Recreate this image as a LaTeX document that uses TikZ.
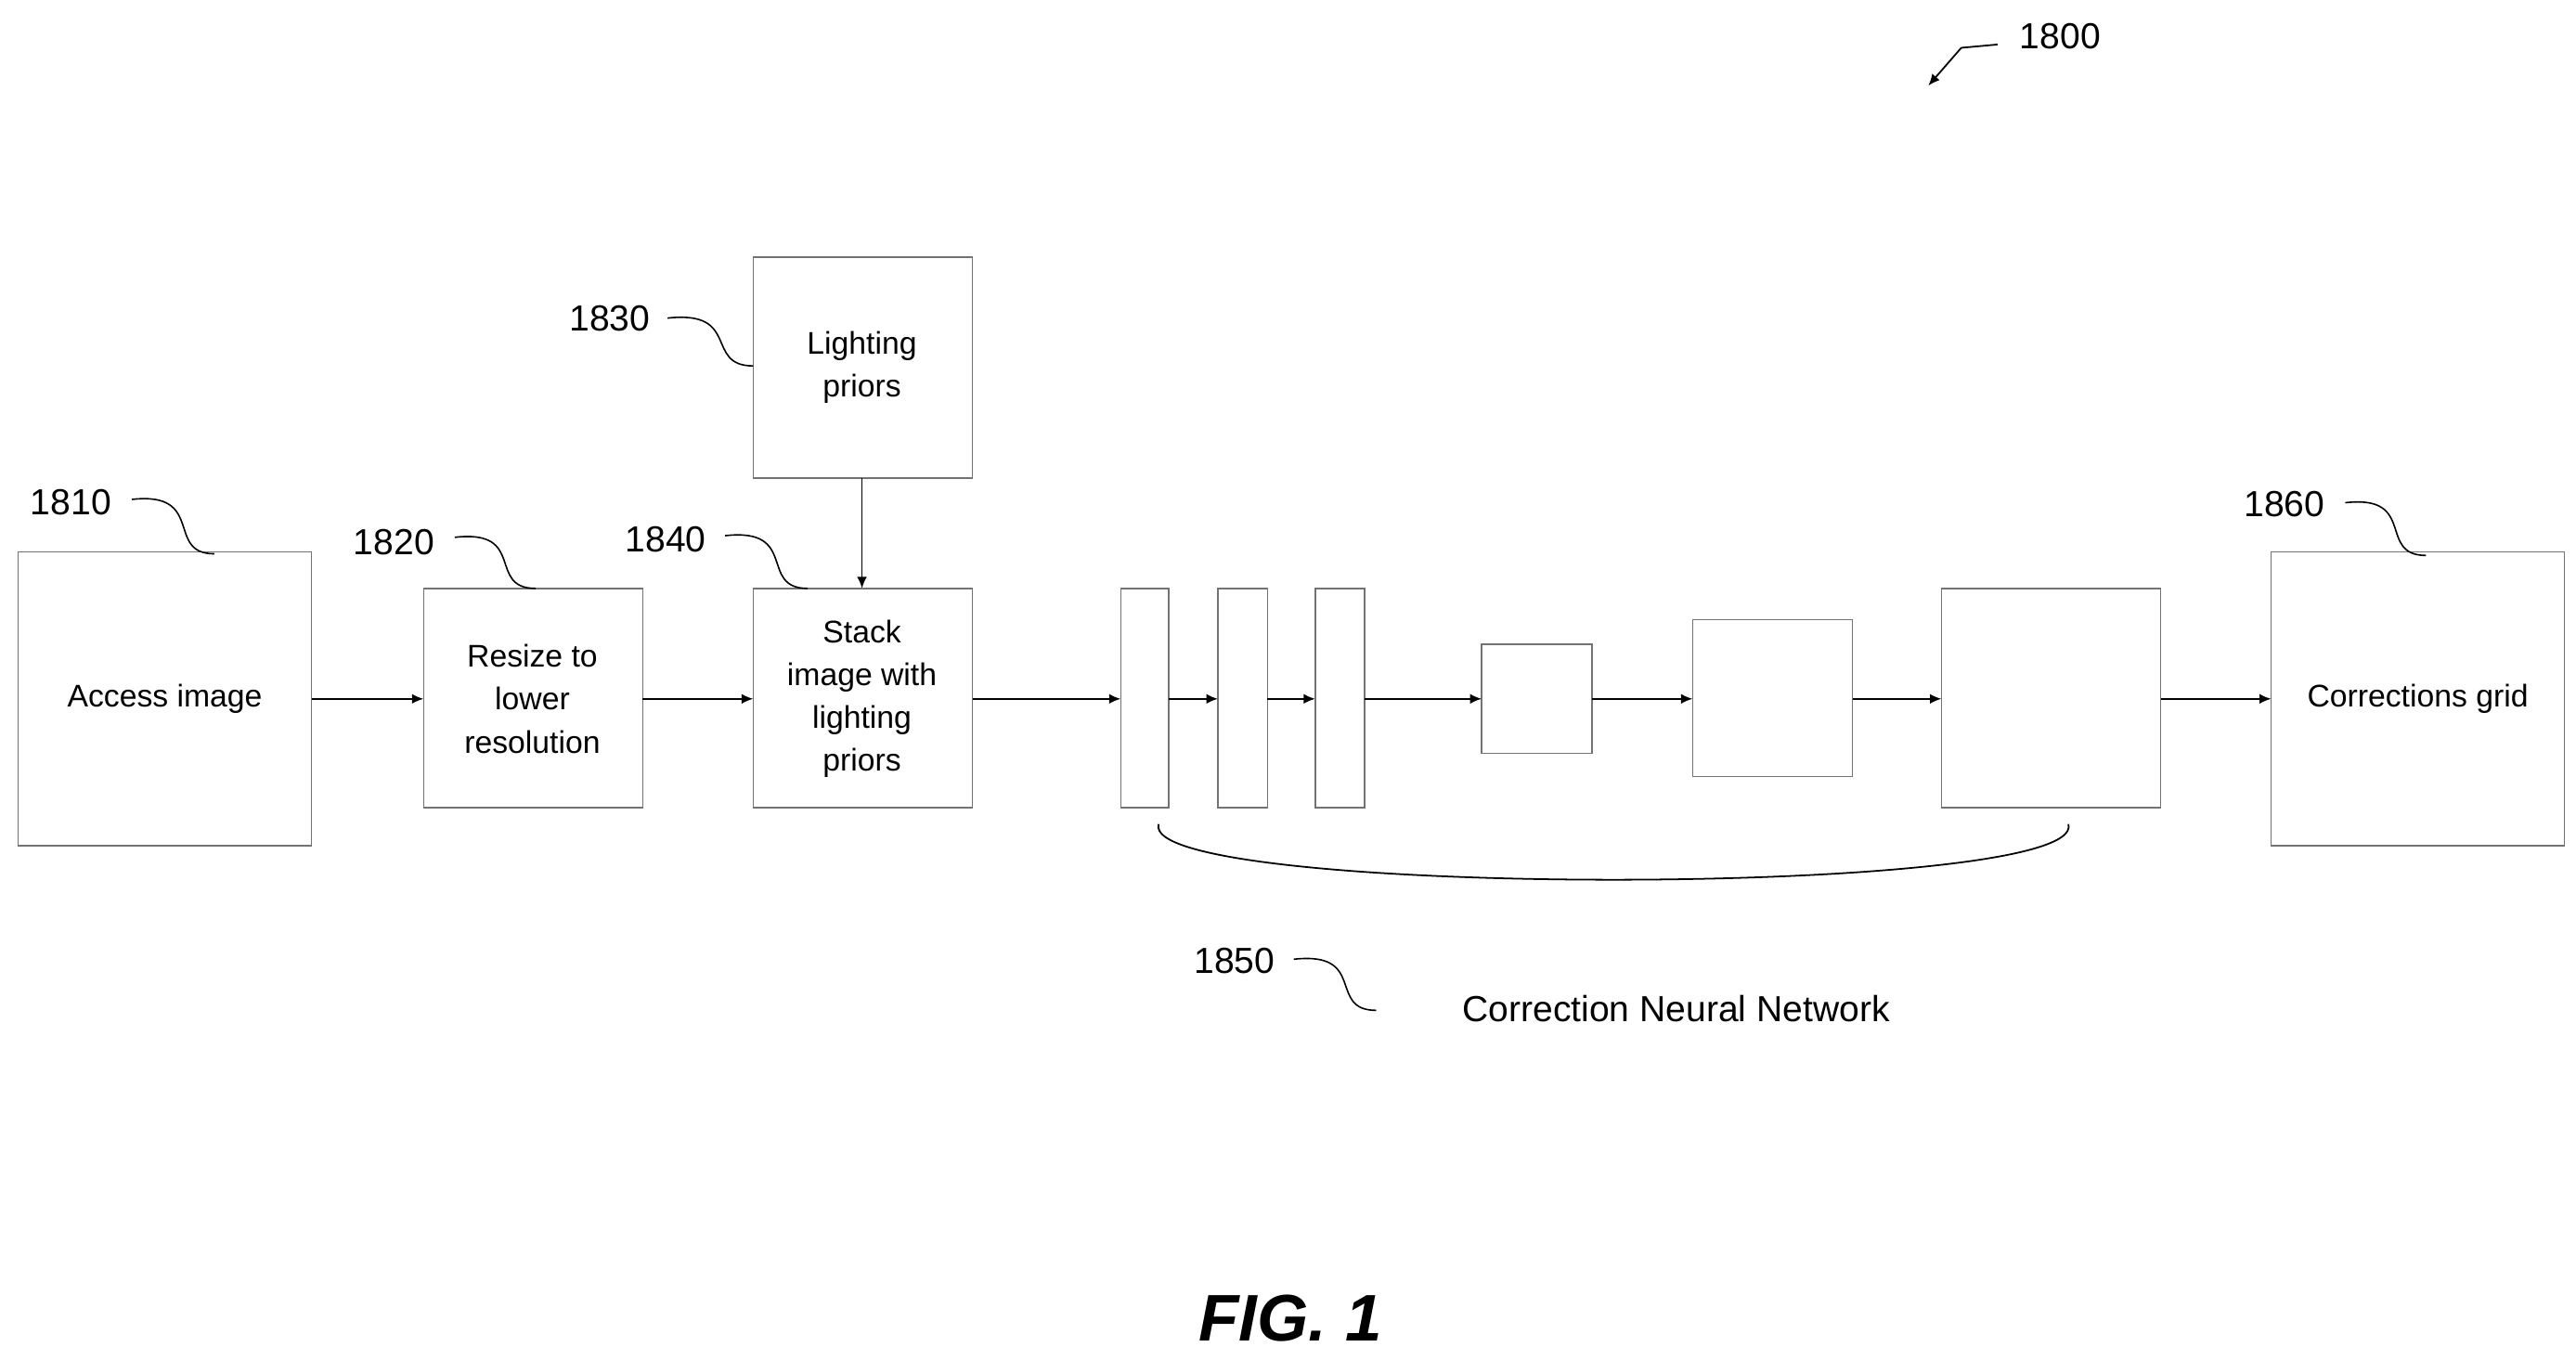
\documentclass[tikz,border=0pt]{standalone}
\usepackage{fontspec}
\setmainfont{Liberation Sans}
\usetikzlibrary{arrows.meta}
\begin{document}
\begin{tikzpicture}[x=1pt,y=-1pt,
 box/.style={draw=black!55,line width=0.8pt},
 arr/.style={-{Latex[length=7pt,width=6pt]},line width=1pt},
 lbl/.style={font=\fontsize{22}{26}\selectfont},
 txt/.style={font=\fontsize{19}{26}\selectfont,align=center},
 sq/.style={line width=0.9pt}]
\path[use as bounding box] (0,0) rectangle (1563,825);
\draw[box] (11,335) rectangle (189,513); \node[txt] (a) at (100,424) {Access image};
\draw[box] (257,357) rectangle (390,490); \node[txt] (r) at (323,424) {Resize to\\lower\\resolution};
\draw[box] (457,357) rectangle (590,490); \node[txt] (s) at (523,424) {Stack\\image with\\lighting\\priors};
\draw[box] (457,156) rectangle (590,290); \node[txt] (l) at (523,223) {Lighting\\priors};
\draw[box] (680,357) rectangle (709,490);
\draw[box] (739,357) rectangle (769,490);
\draw[box] (798,357) rectangle (828,490);
\draw[box] (899,391) rectangle (966,457);
\draw[box] (1027,376) rectangle (1124,471);
\draw[box] (1178,357) rectangle (1311,490);
\draw[box] (1378,335) rectangle (1556,513); \node[txt] (c) at (1467,424) {Corrections grid};
\foreach \a/\b in {189/257,390/457,590/680,709/739,769/798,828/899,966/1027,1124/1178,1311/1378}
 \draw[arr] (\a,424) -- (\b,424);
\draw[arr] (523,290) -- (523,357);
\draw[line width=1pt] (703,500) .. controls (690,545) and (1268,545) .. (1255,500);
\node[lbl] at (43,305) {1810};
\draw[sq] (80,303) .. controls (125,298) and (100,336) .. (130,336);
\node[lbl] at (239,329) {1820};
\draw[sq] (276,326) .. controls (320,321) and (295,357) .. (325,357);
\node[lbl] at (370,193) {1830};
\draw[sq] (405,193) .. controls (450,188) and (427,222) .. (457,222);
\node[lbl] at (404,327) {1840};
\draw[sq] (440,325) .. controls (485,320) and (460,357) .. (490,357);
\node[lbl] at (1386,306) {1860};
\draw[sq] (1423,305) .. controls (1467,300) and (1442,337) .. (1472,337);
\node[lbl] at (749,583) {1850};
\draw[sq] (785,582) .. controls (830,577) and (805,613) .. (835,613);
\node[lbl] at (1017,612) {Correction Neural Network};
\node[lbl] at (1250,22) {1800};
\draw[arr] (1212,27) -- (1190,29) -- (1170,52);
\node[font=\fontsize{40}{44}\selectfont\bfseries\itshape] at (783,800) {FIG. 1};
\end{tikzpicture}
\end{document}
